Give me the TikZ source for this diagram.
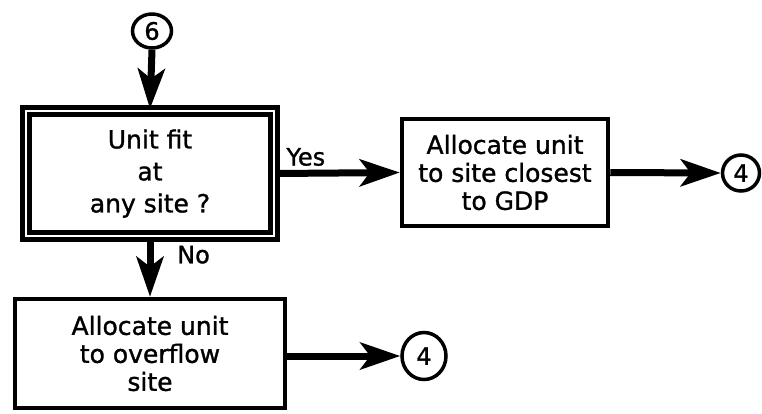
\documentclass[tikz,border=0pt]{standalone}
\usepackage{fontspec}
\setmainfont[FakeBold=1.2]{DejaVu Sans}
\usetikzlibrary{arrows.meta,shapes.geometric}
\begin{document}
\begin{tikzpicture}[x=1pt,y=-1pt,
  boxtext/.style={font=\fontsize{25}{28}\selectfont, align=center},
  procbox/.style={draw, line width=4.5pt, rectangle, inner sep=0pt,
                  boxtext},
  connector/.style={draw, ellipse, line width=3.5pt, inner sep=0pt,
                    font=\fontsize{24}{24}\selectfont},
  flow/.style={line width=7pt,
               -{Stealth[length=40pt,width=27pt,inset=10pt]}},
  lbl/.style={font=\fontsize{24}{24}\selectfont, inner sep=0pt}
]
\useasboundingbox (0,0) rectangle (762,413);

% off-page connector in
\node[connector, minimum width=39pt, minimum height=34pt] (c6) at (152,31) {6};

% decision box with double frame
\node[draw, rectangle, line width=4.5pt, double, double distance=2.5pt,
      minimum width=248pt, minimum height=125pt, inner sep=0pt,
      font=\fontsize{25}{32}\selectfont, align=center]
      (dec) at (150,173.5) {Unit fit\\at\\any site ?};

% process boxes
\node[procbox, minimum width=206pt, minimum height=107pt]
      (near) at (505,172.5) {Allocate unit\\to site closest\\to GDP};
\node[procbox, minimum width=270pt, minimum height=109pt]
      (over) at (150,353.5) {Allocate unit\\to overflow\\site};

% connectors out
\node[connector, minimum width=37pt, minimum height=36pt] (c4a) at (741,173) {4};
\node[connector, minimum width=44pt, minimum height=47pt] (c4b) at (424,356) {4};

% flow lines
\draw[flow] (c6.south) -- (dec.north);
\draw[flow] (dec.east) -- (near.west);
\draw[flow] (dec.south) -- (over.north);
\draw[flow] (near.east) -- (c4a.west);
\draw[flow] (over.east |- c4b.west) -- (c4b.west);

% branch labels
\node[lbl, anchor=base west] (yes) at ([xshift=10pt,yshift=8pt]dec.east) {Yes};
\node[lbl, anchor=base west] (no) at ([xshift=27pt,yshift=-25pt]dec.south) {No};
\end{tikzpicture}
\end{document}
